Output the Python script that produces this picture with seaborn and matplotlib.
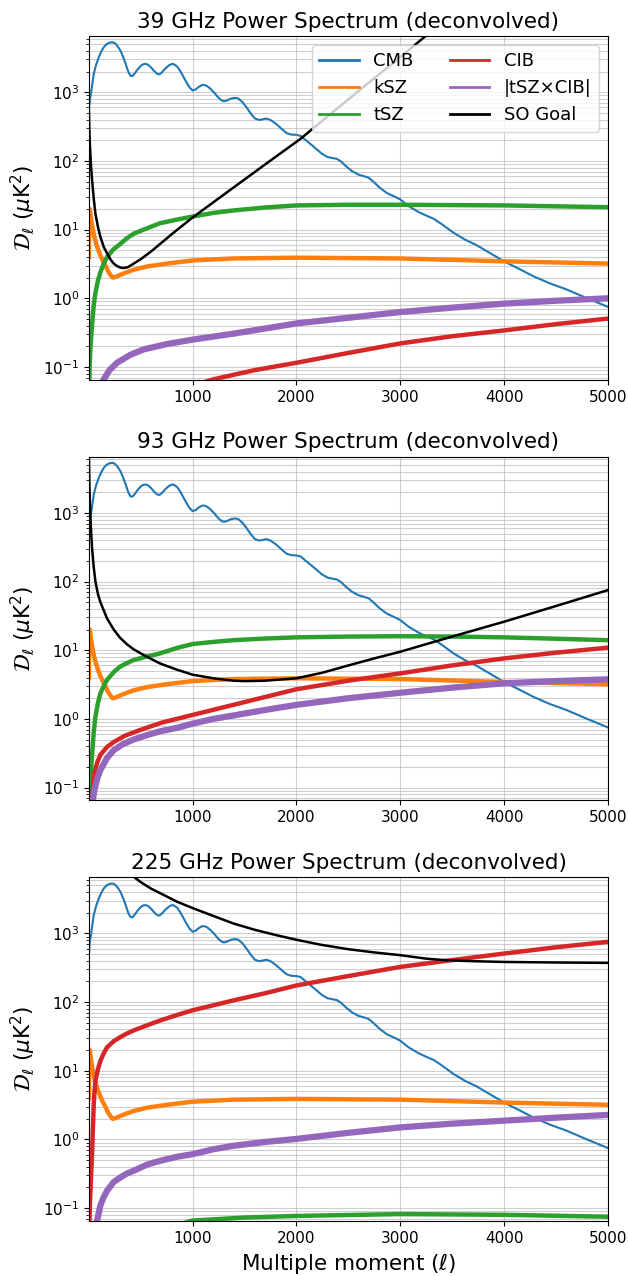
import matplotlib
matplotlib.use("Agg")
import matplotlib.pyplot as plt
import seaborn as sns

# ---------------- data ----------------
titles = ["39 GHz Power Spectrum (deconvolved)",
          "93 GHz Power Spectrum (deconvolved)",
          "225 GHz Power Spectrum (deconvolved)"]

cmb_ell = [2, 6, 12, 23, 35, 48, 70, 96, 120, 144, 170, 200, 225, 245, 265, 285, 305,
           330, 355, 380, 401, 420, 445, 470, 500, 525, 546, 570, 600, 630, 660, 680,
           705, 735, 770, 800, 820, 850, 880, 910, 940, 970, 1000, 1030, 1060, 1090,
           1110, 1140, 1170, 1210, 1250, 1280, 1302, 1330, 1370, 1410, 1440, 1480,
           1520, 1560, 1600, 1640, 1680, 1712, 1750, 1800, 1850, 1904, 1950, 2000,
           2040, 2090, 2134, 2190, 2246, 2300, 2350, 2390, 2430, 2480, 2535, 2600,
           2650, 2695, 2740, 2800, 2872, 2940, 3000, 3080, 3177, 3250, 3321, 3400,
           3513, 3620, 3738, 3870, 4000, 4140, 4283, 4440, 4604, 4800, 5000]
cmb_val = [485, 650, 800, 1000, 1350, 1850, 2500, 3230, 3900, 4520, 5000, 5280, 5340,
           5250, 4950, 4500, 4040, 3300, 2600, 2000, 1740, 1720, 1900, 2150, 2420, 2560,
           2590, 2520, 2300, 2030, 1850, 1820, 1950, 2200, 2450, 2590, 2560, 2380, 2050,
           1700, 1400, 1180, 1060, 1100, 1200, 1270, 1280, 1230, 1130, 980, 830, 760,
           740, 760, 810, 830, 810, 720, 600, 490, 415, 395, 405, 414, 395, 350, 300,
           255, 242, 240, 232, 200, 177, 150, 127, 114, 110, 107, 98, 83, 71, 63, 60,
           57, 50, 41, 34, 30.5, 27.5, 22, 18, 16, 14.4, 12, 9.0, 7.2, 5.9, 4.5, 3.45,
           2.7, 2.09, 1.65, 1.34, 1.0, 0.75]

ksz_ell = [2, 4, 10, 20, 32, 48, 64, 88, 112, 136, 160, 184, 208, 230, 260, 304, 368,
           432, 560, 752, 1000, 1392, 2000, 3000, 4000, 5000]
ksz_val = [4, 20, 20, 15, 11.5, 8.5, 6.8, 5.2, 4.2, 3.5, 3.0, 2.5, 2.2, 2.0, 2.05, 2.2,
           2.4, 2.6, 2.9, 3.2, 3.55, 3.8, 3.9, 3.8, 3.45, 3.2]

# 39 GHz
tsz39_ell = [2, 8, 16, 32, 48, 64, 88, 112, 144, 176, 240, 304, 368, 432, 528, 688, 850,
             1000, 1200, 1392, 1700, 2000, 2500, 3000, 4000, 5000]
tsz39_val = [0.03, 0.1, 0.19, 0.42, 0.8, 1.2, 1.8, 2.4, 3.2, 4.0, 5.2, 6.2, 7.5, 8.7, 10,
             12.4, 14, 15.5, 17.5, 19, 21, 22.5, 23, 23, 22.5, 21.2]
cib39_ell = [500, 800, 1200, 1600, 2000, 2500, 3000, 3500, 4000, 4500, 5000]
cib39_val = [0.025, 0.043, 0.066, 0.09, 0.115, 0.16, 0.22, 0.28, 0.34, 0.42, 0.506]
x39_ell = [110, 144, 200, 272, 400, 528, 750, 1000, 1392, 2000, 2500, 3000, 3500, 4000,
           4500, 5000]
x39_val = [0.05, 0.066, 0.09, 0.115, 0.15, 0.18, 0.215, 0.25, 0.305, 0.43, 0.52, 0.63,
           0.73, 0.835, 0.92, 1.0]
so39_ell = [2, 5, 10, 20, 32, 48, 64, 88, 112, 144, 176, 208, 240, 272, 304, 336, 380,
            432, 500, 600, 688, 800, 1000, 1392, 1712, 2038, 2358, 2679, 3000, 3237, 3500]
so39_val = [500, 300, 180, 90, 52, 28, 17, 11, 7.8, 5.6, 4.5, 3.7, 3.2, 2.95, 2.8, 2.75,
            2.85, 3.2, 3.7, 4.8, 6.2, 8.6, 15, 40.8, 92, 209, 525, 1310, 3250, 6450, 13800]

# 93 GHz
tsz93_ell = [2, 8, 16, 32, 48, 64, 88, 112, 144, 176, 240, 304, 368, 432, 560, 688, 850,
             1000, 1200, 1392, 1700, 2000, 2500, 3000, 3500, 4000, 4500, 5000]
tsz93_val = [0.02, 0.07, 0.14, 0.3, 0.65, 1.08, 1.7, 2.36, 3.0, 3.7, 4.8, 5.8, 6.5, 7.2,
             8.1, 9.0, 10.8, 12.3, 13.2, 14, 14.8, 15.4, 15.8, 16, 15.8, 15.4, 14.7, 14]
cib93_ell = [30, 45, 60, 85, 112, 176, 240, 350, 496, 700, 998, 1392, 2000, 2500, 3000,
             3500, 4000, 4500, 5000]
cib93_val = [0.07, 0.12, 0.18, 0.24, 0.3, 0.39, 0.46, 0.57, 0.69, 0.88, 1.14, 1.6, 2.7,
             3.6, 4.6, 6.0, 7.6, 9.2, 10.9]
x93_ell = [40, 50, 60, 85, 112, 176, 240, 330, 432, 560, 688, 850, 998, 1200, 1392, 1700,
           2000, 2500, 3000, 3500, 4000, 4500, 5000]
x93_val = [0.066, 0.085, 0.1, 0.14, 0.18, 0.27, 0.35, 0.43, 0.5, 0.58, 0.66, 0.74, 0.85,
           1.0, 1.12, 1.35, 1.6, 2.0, 2.4, 2.85, 3.3, 3.55, 3.77]
so93_ell = [2, 6, 10, 16, 24, 32, 48, 64, 88, 112, 144, 176, 240, 304, 368, 432, 500, 562,
            688, 850, 1000, 1200, 1392, 1500, 1700, 2000, 2250, 2500, 2750, 3000, 3500,
            4000, 4500, 5000]
so93_val = [6000, 2500, 1500, 870, 480, 300, 160, 100, 66, 50, 38, 29, 20, 15, 12.2, 10.3,
            9.0, 8.0, 6.4, 5.2, 4.4, 3.9, 3.6, 3.55, 3.6, 3.9, 4.7, 6.0, 7.6, 9.5, 15.8,
            26, 44, 75]

# 225 GHz
tsz225_ell = [100, 500, 1000, 1500, 2000, 3000, 4000, 5000]
tsz225_val = [0.005, 0.04, 0.066, 0.073, 0.077, 0.082, 0.08, 0.075]
cib225_ell = [2, 10, 20, 32, 40, 48, 56, 64, 88, 112, 144, 176, 240, 304, 368, 432, 560,
              688, 850, 998, 1200, 1392, 1700, 2000, 2500, 3000, 3500, 4000, 4500, 5000]
cib225_val = [0.03, 0.1, 0.25, 0.62, 1.5, 3.3, 5.2, 7.2, 10.5, 14, 18, 22, 27, 31, 35,
              38.7, 46, 54, 65, 76, 90, 106, 135, 175, 240, 326, 410, 510, 630, 755]
x225_ell = [80, 112, 144, 176, 240, 304, 368, 432, 560, 688, 850, 998, 1200, 1392, 1700,
            2000, 2500, 3000, 3500, 4000, 4500, 5000]
x225_val = [0.066, 0.11, 0.145, 0.18, 0.24, 0.28, 0.32, 0.35, 0.43, 0.49, 0.56, 0.61,
            0.72, 0.81, 0.92, 1.02, 1.25, 1.5, 1.7, 1.88, 2.08, 2.28]
so225_ell = [380, 432, 500, 600, 752, 850, 998, 1200, 1392, 1600, 1800, 2000, 2224, 2500,
             2750, 3000, 3250, 3441, 3700, 4000, 4500, 5000]
so225_val = [7500, 6700, 5600, 4500, 3450, 2900, 2350, 1800, 1400, 1130, 950, 810, 690,
             590, 530, 483, 430, 408, 395, 385, 378, 373]

panels = [
    (tsz39_ell, tsz39_val, cib39_ell, cib39_val, x39_ell, x39_val, so39_ell, so39_val),
    (tsz93_ell, tsz93_val, cib93_ell, cib93_val, x93_ell, x93_val, so93_ell, so93_val),
    (tsz225_ell, tsz225_val, cib225_ell, cib225_val, x225_ell, x225_val, so225_ell, so225_val),
]

labels = ["CMB", "kSZ", "tSZ", "CIB", "|tSZ×CIB|", "SO Goal"]
colors = ["#1f77b4", "#ff7f0e", "#2ca02c", "#d62728", "#9467bd", "black"]
widths = [1.5, 3.2, 3.2, 3.2, 4.5, 1.8]

# ---------------- plotting ----------------
plt.rcParams['font.family'] = ['DejaVu Sans']
fig, axes = plt.subplots(3, 1, figsize=(6.28, 12.76), dpi=100)
fig.subplots_adjust(left=0.1417, right=0.968, top=0.9718, bottom=0.0431, hspace=0.2234)

for i, ax in enumerate(axes):
    tl, tv, cl, cv, xl, xv, sl, sv = panels[i]
    series = [(cmb_ell, cmb_val), (ksz_ell, ksz_val), (tl, tv), (cl, cv), (xl, xv), (sl, sv)]
    for k, (ex, ey) in enumerate(series):
        sns.lineplot(x=ex, y=ey, ax=ax, color=colors[k], linewidth=widths[k],
                     label=labels[k] if i == 0 else None, legend=False)
    ax.set_yscale("log")
    ax.set_xlim(2, 5000)
    ax.set_ylim(0.065, 6600)
    ax.set_xticks([1000, 2000, 3000, 4000, 5000])
    ax.grid(True, which="both", color="#b0b0b0", alpha=0.6, linewidth=0.8)
    ax.set_title(titles[i], fontsize=15.5)
    ax.set_ylabel(r"$\mathcal{D}_\ell$ ($\mu$K$^2$)", fontsize=15.5)
    ax.tick_params(labelsize=11)
    if i == 0:
        leg = ax.legend(loc="upper right", ncol=2, fontsize=13, handlelength=2.2)
        for h in leg.legend_handles:
            h.set_linewidth(2.0)
    else:
        if ax.get_legend() is not None:
            ax.get_legend().remove()

axes[2].set_xlabel(r"Multiple moment ($\ell$)", fontsize=15.5)
for ax in axes[:2]:
    ax.set_xlabel("")

fig.savefig("out.png", dpi=100)
